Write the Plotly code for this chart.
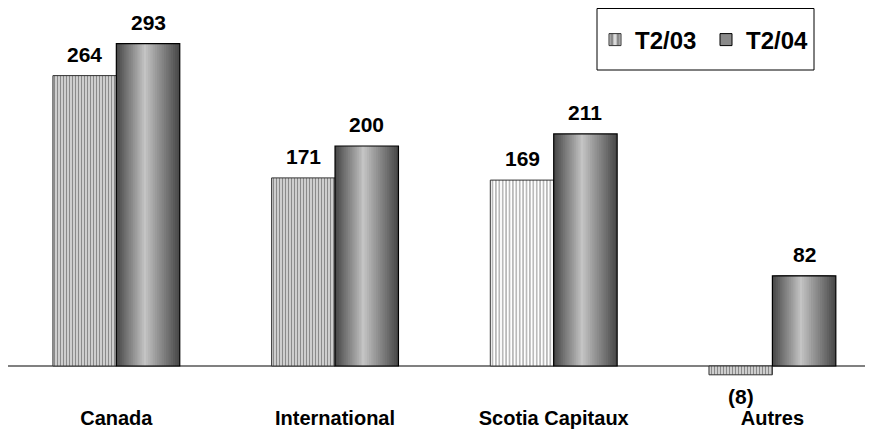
import plotly.graph_objects as go

categories = ["Canada", "International", "Scotia Capitaux", "Autres"]
t2_03 = [264, 171, 169, -8]
t2_04 = [293, 200, 211, 82]
series_names = ["T2/03", "T2/04"]

def label(v):
    return f"({abs(v)})" if v < 0 else str(v)

BW = 0.29  # bar width in category units
PX_PER_CAT = 218.7
FONT = "Liberation Sans"

W, H = 865, 440
ML, MR, MT, MB = 0, 0, 17, 49
PLOT_H = H - MT - MB

fig = go.Figure()

# T2/03 : striped bars
fig.add_trace(go.Bar(
    x=categories, y=t2_03, name="<b>" + series_names[0] + "</b>",
    width=BW, offset=-BW,
    marker=dict(
        color="white",
        line=dict(color="#333333", width=1),
        pattern=dict(
            shape="|",
            size=[3, 3, 3.4, 3],
            solidity=[0.45, 0.45, 0.3, 0.45],
            fgcolor=["#8a8a8a", "#8a8a8a", "#8c8c8c", "#8a8a8a"],
            bgcolor=["#dcdcdc", "#dcdcdc", "#ffffff", "#dcdcdc"],
            fillmode="replace",
        ),
    ),
))

# T2/04 : cylinder-like gradient built from layered bars
n = 16
dark = (0x4a, 0x4a, 0x4a)
light = (0xc4, 0xc4, 0xc4)
peak = 0.45
for k in range(n):
    f = k / (n - 1)
    col = tuple(int(round(dark[i] + (light[i] - dark[i]) * f)) for i in range(3))
    left = BW * peak * f * 0.97
    right = BW - BW * (1 - peak) * f * 0.97
    fig.add_trace(go.Bar(
        x=categories, y=t2_04, name=series_names[1],
        width=right - left, offset=left,
        marker=dict(color="rgb(%d,%d,%d)" % col, line=dict(width=0)),
        showlegend=False,
        hoverinfo="skip",
    ))
# outline
fig.add_trace(go.Bar(
    x=categories, y=t2_04, name=series_names[1],
    width=BW, offset=0,
    marker=dict(color="rgba(0,0,0,0)", line=dict(color="black", width=1.2)),
    showlegend=False,
))
# legend entry for T2/04
fig.add_trace(go.Bar(
    x=[categories[0]], y=[0], name="<b>" + series_names[1] + "</b>",
    marker=dict(color="#8a8a8a", line=dict(color="black", width=1)),
    showlegend=True, width=0.0001,
))

# value labels
for vals, sign in ((t2_03, -1), (t2_04, 1)):
    for cat, v in zip(categories, vals):
        fig.add_annotation(x=cat, y=v, text="<b>" + label(v) + "</b>", showarrow=False,
                           xshift=sign * BW / 2 * PX_PER_CAT,
                           yshift=(8 if v >= 0 else -8),
                           yanchor="bottom" if v >= 0 else "top",
                           font=dict(family=FONT, size=21, color="black"))

# legend box
fig.add_shape(type="rect", xref="paper", yref="paper",
              x0=589 / W, x1=806 / W,
              y0=(H - MB - 62) / PLOT_H, y1=(H - MB - 0.5) / PLOT_H,
              line=dict(color="black", width=1), fillcolor="white", layer="below")

fig.update_layout(
    width=W, height=H,
    margin=dict(l=ML, r=MR, t=MT, b=MB),
    paper_bgcolor="white", plot_bgcolor="white",
    barmode="overlay",
    showlegend=True,
    legend=dict(orientation="h", x=587 / W, y=(H - MB - 32) / PLOT_H,
                xanchor="left", yanchor="middle",
                bgcolor="rgba(0,0,0,0)", borderwidth=0,
                font=dict(family=FONT, size=24, color="black"),
                itemwidth=30, entrywidth=66),
    font=dict(family=FONT, size=20, color="black"),
)
fig.update_xaxes(range=[-0.5 + 1 / PX_PER_CAT, 3.46], showgrid=False, showline=False,
                 ticks="outside", ticklen=1, tickcolor="white",
                 tickfont=dict(family=FONT, size=20, color="black"),
                 tickprefix="<b>", ticksuffix="</b>")
fig.update_yaxes(range=[-30, 310], showgrid=False, showticklabels=False,
                 zeroline=True, zerolinecolor="#808080", zerolinewidth=2,
                 showline=False)

fig.write_html("out.html")
